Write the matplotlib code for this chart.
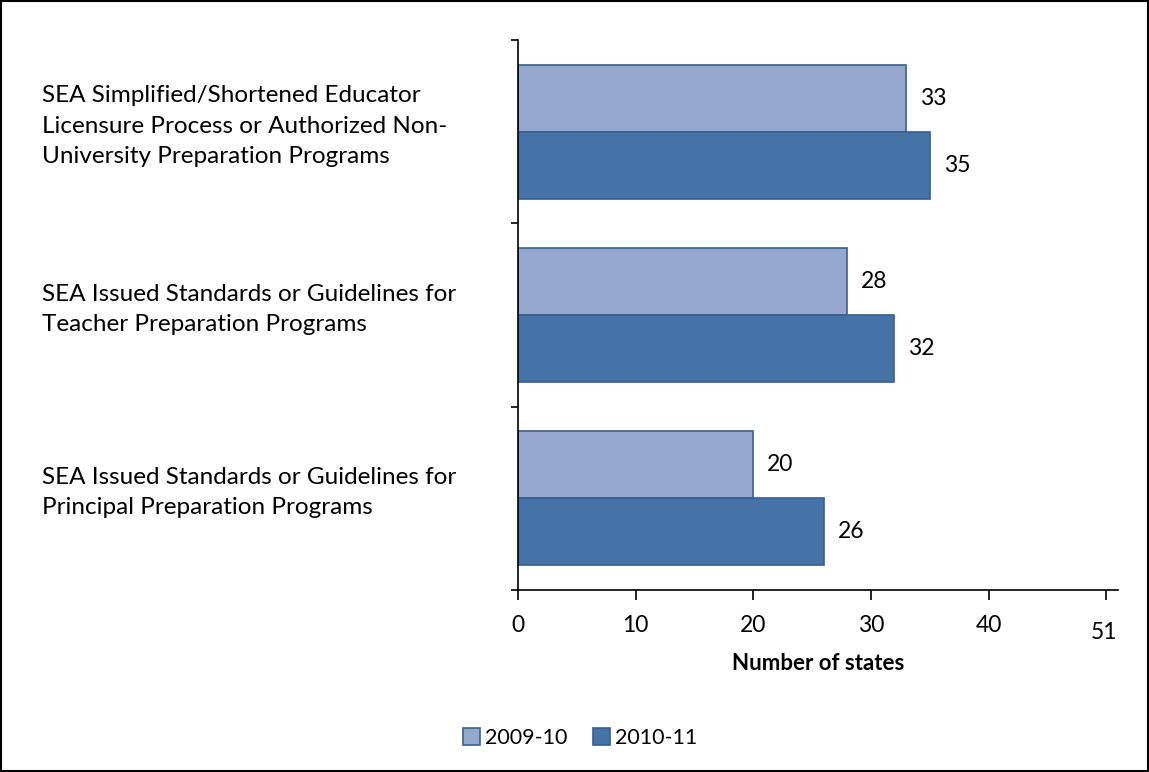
import matplotlib.pyplot as plt
from matplotlib.patches import Patch, Rectangle
from matplotlib.transforms import blended_transform_factory

categories = [
    "SEA Simplified/Shortened Educator\nLicensure Process or Authorized Non-\nUniversity Preparation Programs",
    "SEA Issued Standards or Guidelines for\nTeacher Preparation Programs",
    "SEA Issued Standards or Guidelines for\nPrincipal Preparation Programs",
]
series_names = ["2009-10", "2010-11"]
values_2009 = [33, 28, 20]
values_2010 = [35, 32, 26]
x_ticks = [0, 10, 20, 30, 40, 50]
x_tick_labels = ["0", "10", "20", "30", "40", "51"]

light = "#95A9D0"
dark = "#4573A7"
edge = "#3B5E8C"

plt.rcParams["font.family"] = ["Lato", "DejaVu Sans"]

fig = plt.figure(figsize=(11.49, 7.72), dpi=100)
ax = fig.add_axes([0.4508, 0.2358, 0.5222, 0.7124])

n = len(categories)
centers = [n - 0.5 - i for i in range(n)]
h = 0.365

b1 = ax.barh([c + h / 2 for c in centers], values_2009, height=h,
             color=light, edgecolor=edge, linewidth=1.2, label=series_names[0])
b2 = ax.barh([c - h / 2 for c in centers], values_2010, height=h,
             color=dark, edgecolor=edge, linewidth=1.2, label=series_names[1])
ax.bar_label(b1, padding=10, fontsize=16.5)
ax.bar_label(b2, padding=10, fontsize=16.5)

ax.set_xlim(0, 51)
ax.set_ylim(0, n)
ax.set_xticks(x_ticks)
ax.set_xticklabels(x_tick_labels[:-1] + [""], fontsize=16.5)
# the last label sits a little lower than the others
ax.text(49.8, -0.078, x_tick_labels[-1], fontsize=16.5, ha="center", va="center",
        transform=blended_transform_factory(ax.transData, ax.transAxes))
ax.set_yticks(range(n + 1))
ax.set_yticklabels([])
ax.tick_params(axis="x", direction="out", length=7, width=1.2, pad=11)
ax.tick_params(axis="y", direction="out", length=5, width=1.2)
for s in ["top", "right"]:
    ax.spines[s].set_visible(False)
for s in ["left", "bottom"]:
    ax.spines[s].set_linewidth(1.2)

ax.set_xlabel("Number of states", fontsize=16, fontweight="bold", labelpad=12)

tr = blended_transform_factory(fig.transFigure, ax.transData)
for c, label in zip(centers, categories):
    ax.text(42 / 1149, c + 0.03, label, transform=tr, ha="left", va="center",
            fontsize=17.5, linespacing=1.55)

handles = [Patch(facecolor=light, edgecolor=edge, linewidth=1.2),
           Patch(facecolor=dark, edgecolor=edge, linewidth=1.2)]
fig.legend(handles, series_names, loc="center", bbox_to_anchor=(580 / 1149, 0.044),
           ncol=2, frameon=False, fontsize=15.5, handlelength=0.8, handleheight=0.8,
           handletextpad=0.2, columnspacing=1.2)

fig.patches.append(Rectangle((0.001, 0.001), 0.998, 0.998, transform=fig.transFigure,
                             fill=False, edgecolor="black", linewidth=1.5))

fig.savefig("out.png", dpi=100)
